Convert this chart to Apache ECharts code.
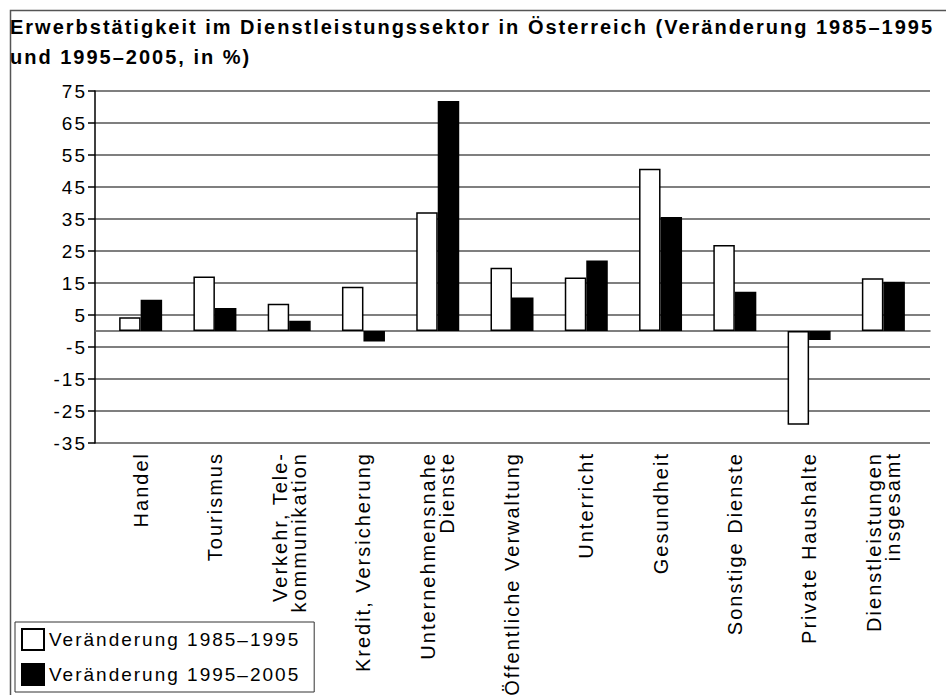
<!DOCTYPE html>
<html>
<head>
<meta charset="utf-8">
<script src="https://cdn.jsdelivr.net/npm/echarts@6/dist/echarts.min.js"></script>
<style>
html,body{margin:0;padding:0;background:#fff;}
#chart{width:946px;height:695px;}
/* the original uses slightly spaced-out lettering */
#chart text{letter-spacing:2px;}
</style>
</head>
<body>
<div id="chart"></div>
<script>
const categories = [
  'Handel',
  'Tourismus',
  'Verkehr, Tele-\nkommunikation',
  'Kredit, Versicherung',
  'Unternehmensnahe\nDienste',
  'Öffentliche Verwaltung',
  'Unterricht',
  'Gesundheit',
  'Sonstige Dienste',
  'Private Haushalte',
  'Dienstleistungen\ninsgesamt'
]
const change1985_1995 = [4.3, 17.0, 8.5, 13.8, 37.1, 19.8, 16.7, 50.7, 26.9, -29.3, 16.5]
const change1995_2005 = [9.8, 7.2, 3.2, -3.3, 71.9, 10.5, 22.0, 35.6, 12.3, -2.8, 15.4]
const seriesNames = ['Veränderung 1985–1995', 'Veränderung 1995–2005']
const yMin = -35
const yMax = 75
const yStep = 10

const font = 'Liberation Sans, Arial, sans-serif'
const chart = echarts.init(document.getElementById('chart'), null, {renderer: 'svg'})

const option = {
  backgroundColor: '#fff',
  animation: false,
  title: {
    text: 'Erwerbstätigkeit im Dienstleistungssektor in Österreich (Veränderung 1985–1995\nund 1995–2005, in %)',
    left: 10,
    top: 12,
    padding: 0,
    textStyle: {
      fontFamily: font,
      fontWeight: 'bold',
      fontSize: 20,
      lineHeight: 30,
      color: '#000'
    }
  },
  legend: {
    orient: 'vertical',
    left: 15,
    top: 622,
    padding: [6, 56, 6, 6],
    itemWidth: 22,
    itemHeight: 21,
    itemGap: 12,
    borderColor: '#333',
    borderWidth: 1,
    backgroundColor: '#fff',
    icon: 'rect',
    selectedMode: false,
    textStyle: {fontFamily: font, fontSize: 19, color: '#000'},
    data: seriesNames
  },
  graphic: [{
    type: 'rect',
    left: 8,
    top: 8,
    z: -10,
    shape: {width: 960, height: 700},
    style: {fill: 'none', stroke: '#555', lineWidth: 1.5}
  }],
  grid: [
    // background grid: value axis, gridlines and zero line
    {left: 95, right: 16, top: 91, bottom: 252},
    // bar grid, slightly inset like the original
    {left: 103.5, right: 25.5, top: 91, bottom: 252}
  ],
  xAxis: [
    {
      gridIndex: 0,
      type: 'value',
      min: 0,
      max: 1,
      axisLine: {show: true, onZero: true, lineStyle: {color: '#555', width: 1.5}},
      axisTick: {show: false},
      axisLabel: {show: false},
      splitLine: {show: false}
    },
    {
      gridIndex: 1,
      type: 'category',
      data: categories,
      axisLine: {show: false, onZero: false},
      axisTick: {show: false},
      axisLabel: {
        rotate: 90,
        margin: 9,
        interval: 0,
        fontFamily: font,
        fontSize: 20,
        lineHeight: 19,
        color: '#000'
      }
    }
  ],
  yAxis: [
    {
      gridIndex: 0,
      type: 'value',
      min: yMin,
      max: yMax,
      interval: yStep,
      axisLine: {show: true, lineStyle: {color: '#000', width: 1.5}},
      axisTick: {show: true, length: 7, lineStyle: {color: '#000', width: 1.5}},
      axisLabel: {margin: 8, fontFamily: font, fontSize: 19, color: '#000'},
      splitLine: {show: true, lineStyle: {color: '#555', width: 1.5}}
    },
    {
      gridIndex: 1,
      type: 'value',
      min: yMin,
      max: yMax,
      interval: yStep,
      show: false,
      splitLine: {show: false}
    }
  ],
  series: [
    {
      name: seriesNames[0],
      type: 'bar',
      xAxisIndex: 1,
      yAxisIndex: 1,
      data: change1985_1995,
      barWidth: 21.5,
      barGap: '0%',
      itemStyle: {color: '#fff', borderColor: '#000', borderWidth: 1.5}
    },
    {
      name: seriesNames[1],
      type: 'bar',
      xAxisIndex: 1,
      yAxisIndex: 1,
      data: change1995_2005,
      barWidth: 21.5,
      barGap: '0%',
      itemStyle: {color: '#000', borderColor: '#000', borderWidth: 1.5}
    }
  ]
}
chart.setOption(option)
</script>
</body>
</html>
